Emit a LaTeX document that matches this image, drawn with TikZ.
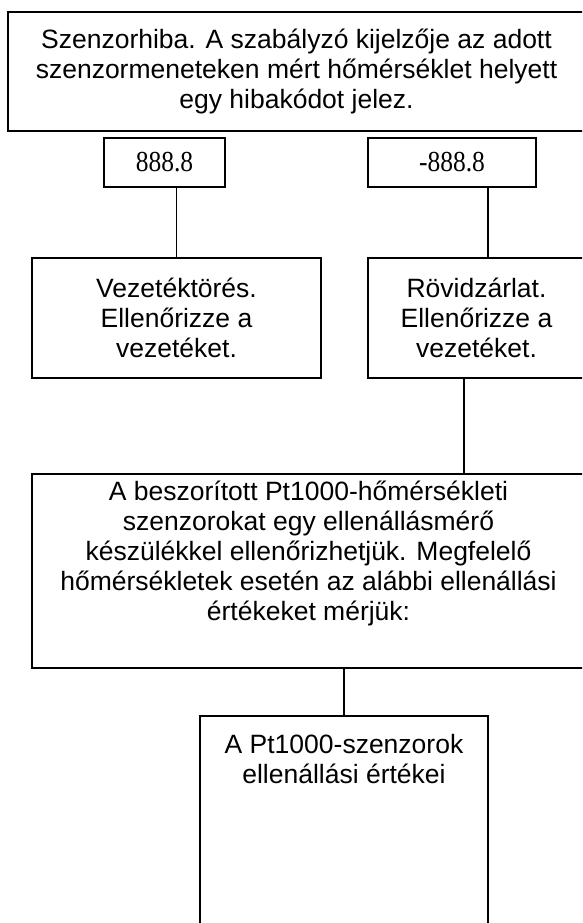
\documentclass[tikz,border=0pt]{standalone}
\usepackage{fontspec}
\setmainfont{Liberation Sans}
\newfontfamily\tnr{Liberation Serif}
\begin{document}
\begin{tikzpicture}[x=1pt,y=-1pt,
  box/.style={draw, line width=1.8pt, inner sep=0pt, align=center, font=\fontsize{26.5}{30}\selectfont},
  codebox/.style={draw, line width=1.8pt, inner sep=0pt, font=\tnr\fontsize{29}{32}\selectfont},
  link/.style={line width=1.8pt}]
\useasboundingbox (0,0) rectangle (582,923);
\clip (0,0) rectangle (582,923);
\fill[white] (0,0) rectangle (582,923);

\node[box, minimum width=577pt, minimum height=119pt] (top) at (296.5,71.5)
  {Szenzorhiba. A szabályzó kijelzője az adott\\szenzormeneteken mért hőmérséklet helyett\\egy hibakódot jelez.};

\node[codebox, minimum width=121pt, minimum height=49pt] (c1) at (164.5,162.5) {\scalebox{0.88}[1]{888.8}};
\node[codebox, minimum width=168pt, minimum height=49pt] (c2) at (452,162.5) {\scalebox{0.88}[1]{-888.8}};

\node[box, minimum width=289pt, minimum height=120pt] (v) at (176.5,318)
  {Vezetéktörés.\\Ellenőrizze a\\vezetéket.};
\node[box, minimum width=217pt, minimum height=120pt] (r) at (476.5,318)
  {Rövidzárlat.\\Ellenőrizze a\\vezetéket.};

\node[box, anchor=north] (big) at (308.5,473)
  {\parbox[c][194pt][t]{553pt}{\centering\rule{0pt}{27pt}A beszorított Pt1000-hőmérsékleti\\szenzorokat egy ellenállásmérő\\készülékkel ellenőrizhetjük. Megfelelő\\hőmérsékletek esetén az alábbi ellenállási\\értékeket mérjük:}};

\node[box, anchor=north] (pt) at (344,715)
  {\parbox[c][260pt][t]{288pt}{\centering\rule{0pt}{38pt}A Pt1000-szenzorok\\ellenállási értékei}};

\draw[link] (v.north) -- (v.north |- c1.south);
\draw[link] ([xshift=11.5pt]r.north) -- ([xshift=11.5pt]r.north |- c2.south);
\draw[link] ([xshift=-12.5pt]r.south) -- ([xshift=-12.5pt]r.south |- big.north);
\draw[link] (pt.north) -- (pt.north |- big.south);
\end{tikzpicture}
\end{document}
